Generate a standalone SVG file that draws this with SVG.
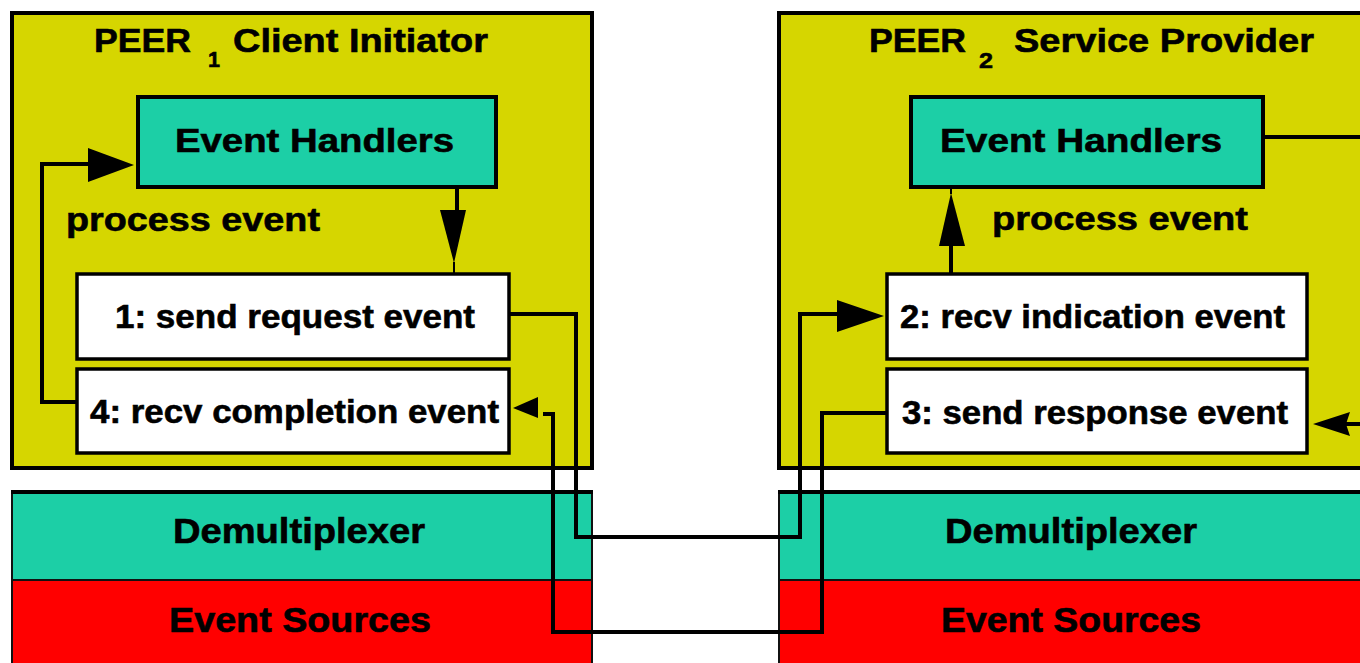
<svg xmlns="http://www.w3.org/2000/svg" width="1360" height="663" viewBox="0 0 1360 663">
<style>
.peer{fill:#d6d600;stroke:#000;stroke-width:4}
.eh{fill:#1ccfa6;stroke:#000;stroke-width:4}
.ev{fill:#fff;stroke:#000;stroke-width:3.5}
.demux{fill:#1ccfa6;stroke:#111;stroke-width:2}
.src{fill:#f00;stroke:#111;stroke-width:2}
.top{stroke:#000;stroke-width:4;fill:none}
text{font-family:"Liberation Sans",Arial,sans-serif;font-weight:bold;fill:#000;stroke:#000;stroke-width:0.6;font-size:34px}
.sub{font-size:22px}
.big{font-size:35px}
.wire{fill:none;stroke:#000;stroke-width:4;stroke-linejoin:miter}
.thin{fill:none;stroke:#000;stroke-width:2}
.head{fill:#000;stroke:none}
</style>
<rect width="1360" height="663" fill="#fff"/>
<g id="peer1">
<rect class="peer" x="12" y="13" width="580" height="455"/>
<text x="94" y="52" textLength="97" lengthAdjust="spacingAndGlyphs">PEER</text>
<text class="sub" x="208" y="67" textLength="12" lengthAdjust="spacingAndGlyphs">1</text>
<text x="233" y="52" textLength="255" lengthAdjust="spacingAndGlyphs">Client Initiator</text>
<text x="66" y="231" textLength="254" lengthAdjust="spacingAndGlyphs">process event</text>
</g>
<g id="peer1-handlers">
<rect class="eh" x="138" y="97" width="358" height="90"/>
<text x="175" y="152" textLength="279" lengthAdjust="spacingAndGlyphs">Event Handlers</text>
</g>
<g id="peer1-send-request">
<rect class="ev" x="77" y="274" width="432" height="85"/>
<text x="115" y="328" textLength="360" lengthAdjust="spacingAndGlyphs">1: send request event</text>
</g>
<g id="peer1-recv-completion">
<rect class="ev" x="77" y="369" width="432" height="84"/>
<text x="90" y="423" textLength="409" lengthAdjust="spacingAndGlyphs">4: recv completion event</text>
</g>
<g id="peer1-demux">
<rect class="demux" x="12" y="492" width="580" height="88"/>
<line class="top" x1="11" y1="492" x2="593" y2="492"/>
<text class="big" x="173" y="543" textLength="252" lengthAdjust="spacingAndGlyphs">Demultiplexer</text>
</g>
<g id="peer1-sources">
<rect class="src" x="12" y="580" width="580" height="90"/>
<text class="big" x="169" y="632" textLength="262" lengthAdjust="spacingAndGlyphs">Event Sources</text>
</g>
<g id="peer2">
<rect class="peer" x="779" y="13" width="600" height="455"/>
<text x="869" y="52" textLength="97" lengthAdjust="spacingAndGlyphs">PEER</text>
<text class="sub" x="979" y="68" textLength="14" lengthAdjust="spacingAndGlyphs">2</text>
<text x="1014" y="52" textLength="300" lengthAdjust="spacingAndGlyphs">Service Provider</text>
<text x="992" y="230" textLength="256" lengthAdjust="spacingAndGlyphs">process event</text>
</g>
<g id="peer2-handlers">
<rect class="eh" x="911" y="97" width="352" height="90"/>
<text x="940" y="152" textLength="282" lengthAdjust="spacingAndGlyphs">Event Handlers</text>
</g>
<g id="peer2-recv-indication">
<rect class="ev" x="887" y="274" width="420" height="85"/>
<text x="900" y="328" textLength="385" lengthAdjust="spacingAndGlyphs">2: recv indication event</text>
</g>
<g id="peer2-send-response">
<rect class="ev" x="887" y="369" width="420" height="84"/>
<text x="902" y="424" textLength="386" lengthAdjust="spacingAndGlyphs">3: send response event</text>
</g>
<g id="peer2-demux">
<rect class="demux" x="779" y="492" width="600" height="88"/>
<line class="top" x1="778" y1="492" x2="1360" y2="492"/>
<text class="big" x="945" y="543" textLength="252" lengthAdjust="spacingAndGlyphs">Demultiplexer</text>
</g>
<g id="peer2-sources">
<rect class="src" x="779" y="580" width="600" height="90"/>
<text class="big" x="941" y="632" textLength="260" lengthAdjust="spacingAndGlyphs">Event Sources</text>
</g>
<g id="connectors">
<polyline class="wire" points="77,402 42,402 42,164 90,164"/>
<polygon class="head" points="88,148 134,165 88,182"/>
<line class="wire" x1="457" y1="187" x2="457" y2="212"/>
<polygon class="head" points="440,210 466,210 454,263"/>
<line class="thin" x1="454" y1="262" x2="454" y2="274"/>
<polyline class="wire" points="509,314 576,314 576,537 800,537 800,314 840,314"/>
<polygon class="head" points="837,300 884,316 837,332"/>
<polyline class="wire" points="887,413 822,413 822,632 553,632 553,412"/>
<line class="wire" x1="555" y1="414" x2="543" y2="414"/>
<polygon class="head" points="538,397 513,408 538,418"/>
<line class="wire" x1="951" y1="273" x2="951" y2="243"/>
<polygon class="head" points="939,246 965,246 951,193"/>
<line class="thin" x1="951" y1="194" x2="951" y2="187"/>
<line class="wire" x1="1263" y1="137" x2="1360" y2="137"/>
<line class="wire" x1="1340" y1="424" x2="1360" y2="424"/>
<polygon class="head" points="1313,424 1350,412 1346,424 1350,436"/>
</g>
</svg>
